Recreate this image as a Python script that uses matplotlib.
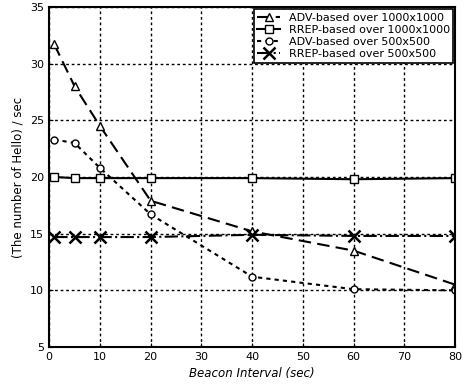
import matplotlib.pyplot as plt

# Beacon interval (sec)
x = [1, 5, 10, 20, 40, 60, 80]

adv_1000 = [31.7, 28.0, 24.5, 17.9, 15.2, 13.5, 10.5]
rrep_1000 = [20.0, 19.9, 19.9, 19.9, 19.9, 19.8, 19.9]
adv_500 = [23.3, 23.0, 20.8, 16.7, 11.2, 10.1, 10.0]
rrep_500 = [14.7, 14.7, 14.7, 14.7, 14.9, 14.8, 14.8]

fig = plt.figure(figsize=(4.64, 3.86), dpi=100)
ax = fig.add_axes([0.106, 0.101, 0.875, 0.881])

ax.plot(x, adv_1000, linestyle=(0, (6, 3)), color='black', marker='^', markersize=6,
        markerfacecolor='white', label="ADV-based over 1000x1000")
ax.plot(x, rrep_1000, linestyle='-', color='black', marker='s', markersize=6,
        markerfacecolor='white', label="RREP-based over 1000x1000")
ax.plot(x, adv_500, linestyle=(0, (2, 2)), color='black', marker='o', markersize=5,
        markerfacecolor='white', label="ADV-based over 500x500")
ax.plot(x, rrep_500, linestyle='-.', color='black', marker='x', markersize=8,
        markeredgewidth=1.8, label="RREP-based over 500x500")

ax.set_xlim(0, 80)
ax.set_ylim(5, 35)
ax.set_xticks(range(0, 81, 10))
ax.set_yticks(range(5, 36, 5))
ax.tick_params(labelsize=8, direction='in', length=3)
ax.grid(True, linestyle=(0, (2, 2)), color='black', linewidth=1)
for s in ax.spines.values():
    s.set_linewidth(1.5)

ax.set_xlabel("Beacon Interval (sec)", fontsize=8.5, style='italic')
ax.set_ylabel("(The number of Hello) / sec", fontsize=8.5)

leg = ax.legend(loc='upper right', fontsize=8, fancybox=False, framealpha=1,
                edgecolor='black', handlelength=2, borderpad=0.3, labelspacing=0.2,
                borderaxespad=0.2)
leg.get_frame().set_linewidth(1.2)

plt.savefig("out.png", dpi=100)
